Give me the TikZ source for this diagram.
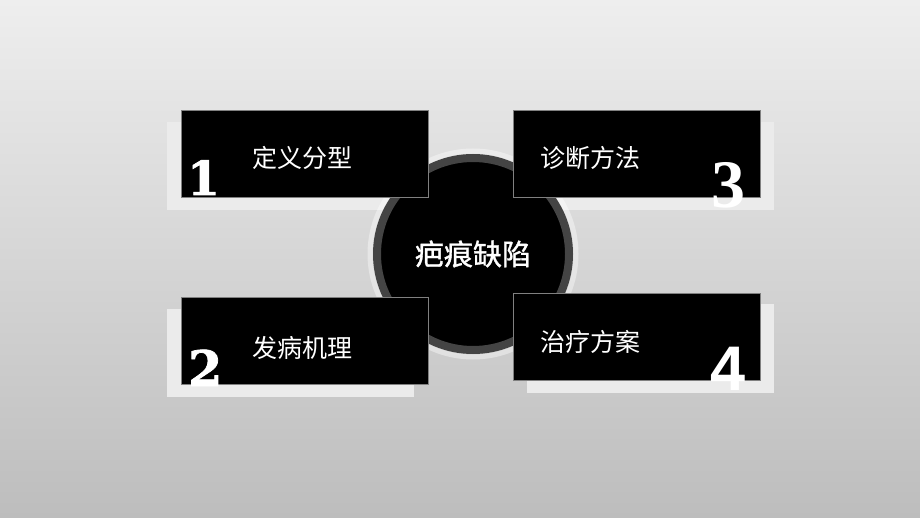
\documentclass[tikz,border=0pt]{standalone}
\usepackage{fontspec}
\usepackage{tikz}
\usetikzlibrary{positioning}
\newfontfamily\cjk{Noto Sans CJK SC}
\newfontfamily\cjkmid{Noto Sans CJK SC}[FakeBold=1.2]
\newfontfamily\numserif{DejaVu Serif}[BoldFeatures={FakeBold=1.5}]
\newfontfamily\numtimes{Liberation Serif}
\newfontfamily\numsans{Liberation Sans}
\definecolor{bgtop}{HTML}{EEEEEE}
\definecolor{bgbot}{HTML}{BDBDBD}
\definecolor{ringgray}{HTML}{444444}
\definecolor{shadegray}{HTML}{EBEBEB}
\tikzset{shade box/.style={rectangle,fill=shadegray,minimum width=247pt,minimum height=88pt,inner sep=0pt},
  black box/.style={rectangle,fill=black,draw=gray,line width=0.6pt,minimum width=247pt,minimum height=87pt,inner sep=0pt},
  item text/.style={text=white,font=\cjk\fontsize{25}{28}\selectfont,inner sep=0pt},
  big num/.style={text=white,inner sep=0pt},
}

\begin{document}
\begin{tikzpicture}[x=1pt,y=-1pt]
		\shade[top color=bgtop,bottom color=bgbot] (0,0) rectangle (920,518);
		\useasboundingbox (0,0) rectangle (920,518);
		% light plates behind the boxes
		\node[shade box] (s1) at (290.5,166) {};
		\node[shade box] (s2) at (290.5,353) {};
		\node[shade box] (s3) at (650.5,166) {};
		\node[shade box] (s4) at (650.5,348.5) {};
		% centre disc
		\node[circle,fill=black,draw=ringgray,line width=8pt,minimum size=192pt,inner sep=0pt] (c) at (473,254) {};
		\draw[white,opacity=0.4,line width=5pt] (c.center) circle (103pt);
		\node[text=white,font=\cjkmid\fontsize{29}{32}\selectfont] (title) at (c) {疤痕缺陷};
		% the four boxes
		\node[black box,xshift=14pt,yshift=12pt] (b1) at (s1) {};
		\node[black box,xshift=14pt,yshift=12pt] (b2) at (s2) {};
		\node[black box,xshift=-14pt,yshift=12pt] (b3) at (s3) {};
		\node[black box,xshift=-14pt,yshift=12pt] (b4) at (s4) {};
		\node[item text] (t1) at (302,158) {定义分型};
		\node[item text] (t2) at (302,348) {发病机理};
		\node[item text] (t3) at (590,158) {诊断方法};
		\node[item text] (t4) at (590,342) {治疗方案};
		\node[big num,anchor=base west,font=\numserif\bfseries\fontsize{47}{50}\selectfont] (n1) at (187,195) {1};
		\node[big num,anchor=base west,font=\numserif\bfseries\fontsize{49}{52}\selectfont] (n2) at (188,386) {2};
		\node[big num,anchor=base west,font=\numtimes\bfseries\fontsize{68}{70}\selectfont] (n3) at (711,208) {3};
		\node[big num,anchor=base west,font=\numsans\bfseries\fontsize{63}{66}\selectfont] (n4) at (710,390) {4};
	\end{tikzpicture}
\end{document}
